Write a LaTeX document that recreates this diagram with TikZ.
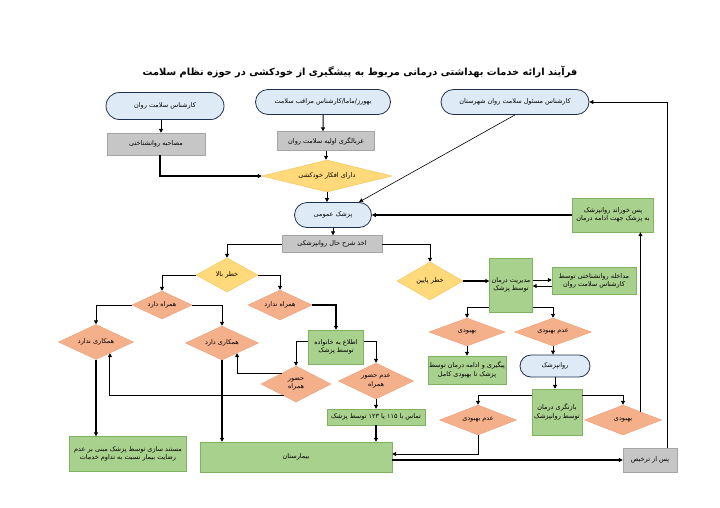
\documentclass[tikz,border=0pt]{standalone}
\usepackage{fontspec}
\usetikzlibrary{shapes.geometric,shapes.misc,arrows.meta,calc}
\TeXXeTstate=1
\newfontfamily\farsi[Script=Arabic]{DejaVu Sans}
\newcommand{\fa}[1]{{\farsi\beginR #1\endR}}

\definecolor{termfill}{HTML}{DEEBF7}
\definecolor{termline}{HTML}{1F2F4F}
\definecolor{grayfill}{HTML}{C6C6C6}
\definecolor{grayline}{HTML}{A5A5A5}
\definecolor{greenfill}{HTML}{A9D18E}
\definecolor{greenline}{HTML}{7FB35F}
\definecolor{yfill}{HTML}{FFD97A}
\definecolor{yline}{HTML}{F4C258}
\definecolor{sfill}{HTML}{F4B08A}
\definecolor{sline}{HTML}{EE9E74}

\begin{document}
\begin{tikzpicture}[x=1pt, y=-1pt, >={Triangle[length=4pt,width=4pt]},
    every node/.style={font=\fontsize{6.5}{8.5}\selectfont, align=center, inner sep=1pt},
    term/.style={rounded rectangle, draw=termline, fill=termfill, line width=0.8pt},
    graybox/.style={rectangle, draw=grayline, fill=grayfill},
    greenbox/.style={rectangle, draw=greenline, fill=greenfill},
    ydia/.style={diamond, draw=yline, fill=yfill, inner sep=0pt},
    sdia/.style={diamond, draw=sline, fill=sfill, inner sep=0pt},
    conn/.style={->, line width=1pt},
    heavy/.style={->, line width=2pt}]
    \useasboundingbox[fill=white] (0,0) rectangle (720,507);

    % title
    \node[font=\fontsize{9.8}{12}\selectfont\bfseries] (title) at (360,72)
        {\fa{فرآیند ارائه خدمات بهداشتی درمانی مربوط به پیشگیری از خودکشی در حوزه نظام سلامت}};

    % top row
    \node[term, minimum width=120, minimum height=27] (t1) at (165,106) {\fa{کارشناس سلامت روان}};
    \node[term, minimum width=137, minimum height=25] (t2) at (323,102) {\fa{بهورز/ماما/کارشناس مراقب سلامت}};
    \node[term, minimum width=150, minimum height=25] (t3) at (515,102) {\fa{کارشناس مسئول سلامت روان شهرستان}};
    \node[graybox, minimum width=98, minimum height=22] (g1) at (156,144) {\fa{مصاحبه روانشناختی}};
    \node[graybox, minimum width=97, minimum height=19] (g2) at (326,141) {\fa{غربالگری اولیه سلامت روان}};
    \node[ydia, shape aspect=4, minimum width=130, minimum height=32] (d1) at (327,176) {\fa{دارای افکار خودکشی}};
    \node[term, minimum width=79, minimum height=25] (pz) at (333,215) {\fa{پزشک عمومی}};
    \node[graybox, minimum width=100, minimum height=17] (g3) at (332,244) {\fa{اخذ شرح حال روانپزشکی}};

    % high risk branch
    \node[ydia, shape aspect=1.8, minimum width=62, minimum height=34] (kb) at (227,275) {\fa{خطر بالا}};
    \node[sdia, shape aspect=2.1, minimum width=60, minimum height=28] (hd) at (162,305) {\fa{همراه دارد}};
    \node[sdia, shape aspect=2.1, minimum width=64, minimum height=30] (hn) at (280,305) {\fa{همراه ندارد}};
    \node[sdia, shape aspect=2.1, minimum width=75, minimum height=35] (hkn) at (96,342) {\fa{همکاری ندارد}};
    \node[sdia, shape aspect=2.1, minimum width=73, minimum height=34] (hkd) at (222,343) {\fa{همکاری دارد}};
    \node[greenbox, minimum width=55, minimum height=34] (et) at (336,347) {\fa{اطلاع به خانواده}\\\fa{توسط پزشک}};
    \node[sdia, shape aspect=2, minimum width=70, minimum height=36] (hz) at (296,384) {\fa{حضور}\\\fa{همراه}};
    \node[sdia, shape aspect=2.1, minimum width=75, minimum height=36] (ahz) at (376,381) {\fa{عدم حضور}\\\fa{همراه}};
    \node[greenbox, minimum width=98, minimum height=16] (tm) at (376,417) {\fa{تماس با ۱۱۵ یا ۱۲۳ توسط پزشک}};
    \node[greenbox, minimum width=192, minimum height=30] (bm) at (296,457) {\fa{بیمارستان}};
    \node[greenbox, minimum width=117, minimum height=35] (ms) at (128,454)
        {\fa{مستند سازی توسط پزشک مبنی بر عدم}\\\fa{رضایت بیمار نسبت به تداوم خدمات}};

    % low risk branch
    \node[ydia, shape aspect=1.7, minimum width=66, minimum height=38] (kp) at (430,281) {\fa{خطر پایین}};
    \node[greenbox, minimum width=43, minimum height=54] (md) at (511,285) {\fa{مدیریت درمان}\\\fa{توسط پزشک}};
    \node[greenbox, minimum width=84, minimum height=27] (mr) at (594,281) {\fa{مداخله روانشناختی توسط}\\\fa{کارشناس سلامت روان}};
    \node[sdia, shape aspect=2.7, minimum width=76, minimum height=28] (bh1) at (467,332) {\fa{بهبودی}};
    \node[sdia, shape aspect=2.7, minimum width=77, minimum height=28] (abh1) at (553,332) {\fa{عدم بهبودی}};
    \node[greenbox, minimum width=76, minimum height=28] (pg) at (467,370) {\fa{پیگیری و ادامه درمان توسط}\\\fa{پزشک تا بهبودی کامل}};
    \node[term, minimum width=72, minimum height=22] (rp) at (555,366) {\fa{روانپزشک}};
    \node[greenbox, minimum width=50, minimum height=46] (bz) at (557,412) {\fa{بازنگری درمان}\\\fa{توسط روانپزشک}};
    \node[sdia, shape aspect=2.6, minimum width=77, minimum height=30] (abh2) at (478,420) {\fa{عدم بهبودی}};
    \node[sdia, shape aspect=2.6, minimum width=77, minimum height=30] (bh2) at (623,420) {\fa{بهبودی}};
    \node[graybox, minimum width=54, minimum height=24] (pt) at (650,460) {\fa{پس از ترخیص}};
    \node[greenbox, minimum width=81, minimum height=34] (pk) at (613,215) {\fa{پس خوراند روانپزشک}\\\fa{به پزشک جهت ادامه درمان}};

    % connectors, top
    \draw[conn] ([xshift=-4pt]t1.south) -- ([xshift=-4pt]t1.south |- g1.north);
    \draw[conn] (t2) -- (t2 |- g2.north);
    \draw[conn] (g2.south) -- (g2.south |- d1.north);
    \draw[heavy] ([xshift=4pt]g1.south) |- (d1.west);
    \draw[conn] (d1.south) -- (d1.south |- pz.north);
    \draw[->, line width=0.6pt] (t3.south) -- (pz.north east);
    \draw[heavy, line width=1.4pt] (pk.west) -- (pz.east);
    \draw[conn] (pz.south) -- (pz.south |- g3.north);
    \draw[conn] (g3.west) -| (kb.north);
    \draw[conn] (g3.east) -| (kp.north);

    % connectors, high risk
    \draw[conn] (kb.west) -| (hd.north);
    \draw[conn] (kb.east) -| (hn.north);
    \draw[conn] (hd.west) -| (hkn.north);
    \draw[conn] (hd.east) -| (hkd.north);
    \draw[heavy, line width=1.4pt] (hn.east) -| (et.north);
    \draw[conn] ([yshift=6pt]et.west) -| (hz.north);
    \draw[conn] ([yshift=6pt]et.east) -| (ahz.north);
    \draw[conn] ($(hz.west)!0.6!(hz.north)$) -| ($(hkd.south)!0.41!(hkd.east)$);
    \draw[conn] ($(hz.west)!0.65!(hz.south)$) -| ($(hkn.south)!0.37!(hkn.east)$);
    \draw[heavy] (hkn.south) -- (hkn.south |- ms.north);
    \draw[heavy] (hkd.south) -- (hkd.south |- bm.north);
    \draw[conn] (ahz.south) -- (tm.north);
    \draw[heavy] (tm.south) -- (tm.south |- bm.north);

    % connectors, low risk
    \draw[heavy] (kp.east) -- (kp.east -| md.west);
    \draw[conn] ([yshift=5pt]md.east) -- ([yshift=5pt]md.east -| mr.west);
    \draw[conn] ([yshift=-5pt]mr.west) -- ([yshift=-5pt]mr.west -| md.east);
    \draw[conn] ([yshift=5pt]md.south west) -| (bh1.north);
    \draw[conn] ([yshift=5pt]md.south east) -| (abh1.north);
    \draw[conn] (bh1.south) -- (pg.north);
    \draw[conn] (abh1.south) -- (abh1.south |- rp.north);
    \draw[conn] (rp.south) -- (rp.south |- bz.north);
    \draw[conn] ([yshift=-7pt]bz.north west) -| (abh2.north);
    \draw[conn] ([yshift=-7pt]bz.north east) -| (bh2.north);
    \draw[conn] (abh2.south) |- ([yshift=3pt]bm.east);
    \draw[heavy] (bm.east |- pt.west) -- (pt.west);
    \coordinate (bhr) at ($(bh2.north)!0.45!(bh2.east)$);
    \draw[conn] (bhr) -- (bhr |- pk.south);
    \draw[conn] ([xshift=-10pt]pt.north east) |- (t3.east);
\end{tikzpicture}
\end{document}
